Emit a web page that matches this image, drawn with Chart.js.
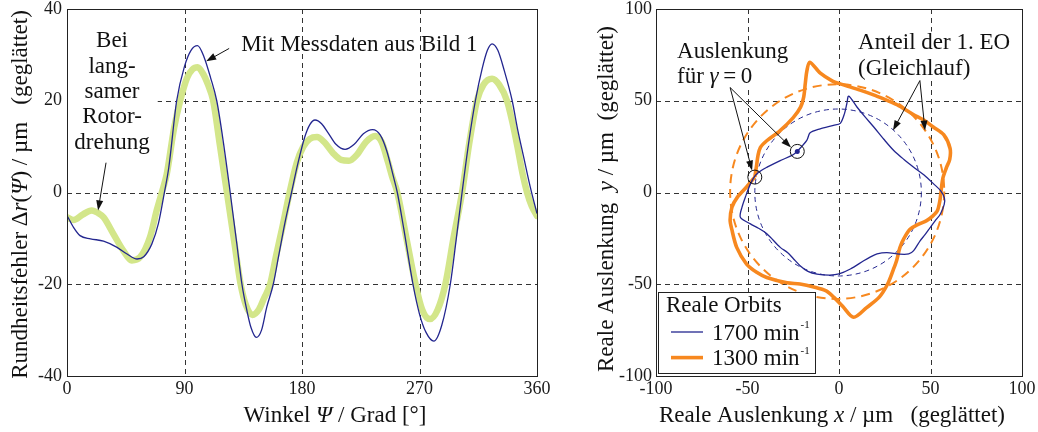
<!DOCTYPE html>
<html>
<head>
<meta charset="utf-8">
<script src="https://cdn.jsdelivr.net/npm/chart.js@4.4.0/dist/chart.umd.min.js"></script>
<style>
    body { margin: 0; background: #fff; width: 1038px; height: 432px; overflow: hidden; position: relative; }
    canvas { position: absolute; }
</style>
</head>
<body>
<canvas id="winkel_chart" width="560" height="452" style="left:0;top:-20px"></canvas>
<canvas id="orbit_chart" width="458" height="452" style="left:580px;top:-20px"></canvas>
<script>
// left panel: Rundheitsfehler over Winkel
var psiMess = [0, 5, 10, 18, 28, 38, 46, 53.7, 58.8, 65, 70, 74.6, 78, 84, 90, 95, 100, 105, 110, 114.7,
    120, 125, 130, 134, 138, 141, 145, 149, 153, 158, 162, 167, 172, 177, 182, 186, 190, 195, 200, 206,
    213, 220, 227, 234, 240, 245, 250, 253, 258, 265, 270, 275, 281, 287, 293.6, 298, 302.6, 308, 312.8, 318,
    322, 325.6, 330, 335, 341, 345, 349.8, 355, 360]
var rMess = [-5, -7.6, -9.4, -10.1, -10.6, -11.9, -13.4, -14.5, -14, -11.2, -6.8, 0, 5.5, 20, 27.5, 31, 32, 29.5, 25, 20,
    10.5, 0, -11, -20, -26, -29.5, -31.6, -30, -25, -20, -14, -6.5, 0, 6.5, 12, 14.8, 15.8, 15, 13, 10.5,
    9.4, 10.5, 12.8, 13.7, 12.5, 9, 3.5, 0, -8, -20, -26.5, -30.5, -32.4, -29, -20, -10.5, 0, 11.5, 20, 27,
    31, 32.4, 31, 26.5, 20, 14, 7.7, 1, -4.6]

var psiLangsam = [0, 5, 12, 19, 24, 28, 35.5, 43, 49.6, 56, 63.6, 68.7, 72.6, 76.4, 82, 86.7, 92, 96, 100, 104,
    108, 112, 117, 122.5, 128, 133, 137, 142, 147, 151, 155.6, 160, 165, 170.5, 176, 181, 186, 191.5, 197, 204,
    210, 216, 222, 229, 236, 241, 246, 249, 253, 260, 267, 272, 278, 284, 289.8, 296, 302.6, 308, 314, 319,
    325.6, 331, 337, 341, 345, 349, 352.4, 356, 360]
var rLangsam = [-5.4, -6, -4.8, -3.9, -4.5, -5.4, -9, -12.6, -14.8, -14.1, -9.7, -3.9, 0, 4, 14, 20, 25, 26.8, 27.3, 26,
    23.5, 20, 10.5, 0, -10.5, -20, -24.5, -26.7, -25.5, -23, -20, -14, -7.5, 0, 6.5, 10, 11.7, 12.1, 11, 8.5,
    7.1, 6.9, 8.2, 11, 12.3, 11, 6.5, 3.5, 0, -10, -20, -25.5, -27.6, -25.5, -20, -10, 0, 10.5, 20, 23.5,
    24.8, 23.5, 20, 15.5, 10, 4, 0, -3, -5.1]

// right panel: orbits, start point = Auslenkung fuer gamma = 0
var orbit1700X = [-22.8, -17.6, -15.8, -10.3, -3, 0.7, 3, 4.3, 5.3, 9.8, 14, 19, 24.5, 29.9, 35.5, 40.8, 46.5, 51.7, 55.5, 57.6,
    57.5, 55.4, 52.5, 49.9, 47, 44.4, 40.8, 38.1, 33, 26.2, 20.8, 17, 13.5, 6.2, 0, -5, -12, -17, -21.1, -24.8,
    -28, -32.1, -39.3, -44, -48.4, -53.9, -53, -51.2, -48.4, -45.7, -42.5, -39.3, -32.1, -25.7, -22.8]
var orbit1700Y = [22.4, 28.4, 32.5, 34.7, 36.6, 37.7, 43, 48.5, 52.5, 46.6, 41.5, 35.7, 29, 22.9, 18, 13.8, 9.5, 4.7, 1, -3,
    -6.5, -11.7, -15.5, -19, -23, -26.2, -31.7, -33.5, -33.6, -32.8, -33.5, -35.2, -37.2, -41.7, -44.4, -45, -44.5, -43, -40, -36.2,
    -32.8, -29.9, -22.6, -19.5, -17.1, -13.5, -8, -2.6, 4.7, 9.3, 12, 13.8, 17.4, 20.2, 22.4]

var orbit1300X = [-46, -45, -44.3, -43, -39.5, -32.3, -25, -21, -19.3, -18.4, -17.6, -16, -10.2, -4, 0.6, 11.5, 20, 26, 31.7, 40.6,
    46.3, 51.5, 57.2, 60.7, 60.5, 58.8, 56.8, 55.8, 55.2, 53.8, 51, 47.9, 43, 38.8, 35.5, 33.3, 31.5, 29.7, 26.5, 22,
    15.1, 8, 2, -2.9, -7, -13.8, -21.3, -28.4, -39.5, -45, -50.5, -55.9, -58.6, -59.5, -58.5, -55.5, -50.5, -46]
var orbit1300Y = [8.4, 15, 20, 24.5, 28.2, 33.6, 40.8, 46.5, 52, 59.6, 66, 71, 65, 61, 59.2, 55.8, 52.8, 50.3, 47.8, 42.5,
    39.5, 35.7, 31.5, 24, 18, 13.8, 8, 1, -4, -9.8, -13, -15.3, -17.5, -20, -25, -30, -37, -42, -50, -57,
    -62.7, -68, -62, -57, -53.6, -51.5, -49.9, -49.2, -46.3, -43.5, -39, -29.9, -20, -15, -8, -2.5, 3, 8.4]

// Anteil der 1. EO (circles): centre x, centre y, radius
var eoCenterX = [-0.5, -1]
var eoCenterY = [0, 0.5]
var eoRadius = [45.5, 58.5]

var drehzahlen = ['1700', '1300']
var legendTitle = 'Reale Orbits'

var BLUE = '#23268f'
var GREEN = '#d3e68a'
var ORANGE = '#f7881f'
var SERIF = '"Liberation Serif", "Times New Roman", serif'
var TXT = 23

function font(size, italic) {
    return (italic ? 'italic ' : '') + size + 'px ' + SERIF
}

function partsWidth(ctx, parts, size) {
    var w = 0
    parts.forEach(function (p) {
        ctx.font = font(size, p[1])
        w += ctx.measureText(p[0]).width
    })
    return w
}

function drawParts(ctx, parts, x, y, size, align) {
    var cx = align === 'center' ? x - partsWidth(ctx, parts, size) / 2 : x
    ctx.textAlign = 'left'
    ctx.textBaseline = 'alphabetic'
    parts.forEach(function (p) {
        ctx.font = font(size, p[1])
        ctx.fillText(p[0], cx, y)
        cx += ctx.measureText(p[0]).width
    })
}

function textBlock(ctx, lines, x, y, lh, size, align, pad) {
    var maxW = 0
    lines.forEach(function (l) { maxW = Math.max(maxW, partsWidth(ctx, l, size)) })
    if (pad) {
        var left = align === 'center' ? x - maxW / 2 : x
        ctx.fillStyle = '#fff'
        ctx.fillRect(left - pad, y - size * 0.75, maxW + 2 * pad, (lines.length - 1) * lh + size)
    }
    ctx.fillStyle = '#111'
    lines.forEach(function (l, i) { drawParts(ctx, l, x, y + i * lh, size, align) })
}

function arrow(ctx, x1, y1, x2, y2) {
    var a = Math.atan2(y2 - y1, x2 - x1), L = 10, W = 3.5
    var c = Math.cos(a), s = Math.sin(a)
    ctx.beginPath()
    ctx.moveTo(x1, y1)
    ctx.lineTo(x2 - L * 0.8 * c, y2 - L * 0.8 * s)
    ctx.stroke()
    ctx.beginPath()
    ctx.moveTo(x2, y2)
    ctx.lineTo(x2 - L * c + W * s, y2 - L * s - W * c)
    ctx.lineTo(x2 - L * c - W * s, y2 - L * s + W * c)
    ctx.closePath()
    ctx.fill()
}

function dashedGrid(chart) {
    var ctx = chart.ctx, a = chart.chartArea, sx = chart.scales.x, sy = chart.scales.y
    ctx.save()
    ctx.strokeStyle = '#333'
    ctx.lineWidth = 1
    ctx.setLineDash([5, 4])
    sx.ticks.slice(1, -1).forEach(function (t) {
        var px = Math.round(sx.getPixelForValue(t.value)) + 0.5
        ctx.beginPath(); ctx.moveTo(px, a.top); ctx.lineTo(px, a.bottom); ctx.stroke()
    })
    sy.ticks.slice(1, -1).forEach(function (t) {
        var py = Math.round(sy.getPixelForValue(t.value)) + 0.5
        ctx.beginPath(); ctx.moveTo(a.left, py); ctx.lineTo(a.right, py); ctx.stroke()
    })
    ctx.restore()
}

function frame(chart) {
    var ctx = chart.ctx, a = chart.chartArea
    ctx.save()
    ctx.strokeStyle = '#222'
    ctx.lineWidth = 1
    ctx.strokeRect(Math.round(a.left) + 0.5, Math.round(a.top) + 0.5, Math.round(a.right - a.left), Math.round(a.bottom - a.top))
    ctx.restore()
}

function rotatedTitle(ctx, parts, x, y, size) {
    ctx.save()
    ctx.translate(x, y)
    ctx.rotate(-Math.PI / 2)
    ctx.fillStyle = '#111'
    drawParts(ctx, parts, 0, 0, size, 'center')
    ctx.restore()
}

function axisSetup(min, max, step, pad, fit) {
    return {
        type: 'linear', min: min, max: max,
        ticks: { stepSize: step, padding: pad, color: '#1a1a1a', font: { family: SERIF, size: 18 }, maxRotation: 0, autoSkip: false },
        grid: { display: false, drawTicks: false },
        border: { display: false },
        afterFit: fit
    }
}

var winkelPlugin = {
    id: 'winkel_deko',
    beforeDatasetsDraw: function (chart) {
        var ctx = chart.ctx, sx = chart.scales.x, sy = chart.scales.y
        dashedGrid(chart)
        ctx.save()
        textBlock(ctx, [[['Bei', false]], [['lang-', false]], [['samer', false]], [['Rotor-', false]], [['drehung', false]]],
            sx.getPixelForValue(34.5), sy.getPixelForValue(31.67), 25.4, TXT, 'center', 8)
        ctx.restore()
    },
    afterDatasetsDraw: function (chart) {
        var ctx = chart.ctx, a = chart.chartArea, sx = chart.scales.x, sy = chart.scales.y
        frame(chart)
        ctx.save()
        ctx.fillStyle = '#111'
        drawParts(ctx, [['Mit Messdaten aus Bild 1', false]], sx.getPixelForValue(133.4), sy.getPixelForValue(30.84), TXT, 'left')
        ctx.strokeStyle = '#111'
        ctx.lineWidth = 1
        arrow(ctx, sx.getPixelForValue(29.9), sy.getPixelForValue(6.5), sx.getPixelForValue(23.8), sy.getPixelForValue(-3.9))
        arrow(ctx, sx.getPixelForValue(124.2), sy.getPixelForValue(31.4), sx.getPixelForValue(106.6), sy.getPixelForValue(28.6))
        drawParts(ctx, [['Winkel ', false], ['Ψ', true], [' / Grad [°]', false]], a.left + 268, a.bottom + 46, TXT, 'center')
        rotatedTitle(ctx, [['Rundheitsfehler Δ', false], ['r', true], ['(', false], ['Ψ', true], [') / µm   (geglättet)', false]],
            a.left - 40, (a.top + a.bottom) / 2 + 2, TXT)
        ctx.restore()
    }
}

var orbitPlugin = {
    id: 'orbit_deko',
    beforeDatasetsDraw: function (chart) {
        var ctx = chart.ctx, sx = chart.scales.x, sy = chart.scales.y
        dashedGrid(chart)
        ctx.save()
        // Anteil der 1. EO
        var eoStyle = [[BLUE, 1, [5, 4]], [ORANGE, 2, [9, 6]]]
        eoCenterX.forEach(function (cx, i) {
            var px = sx.getPixelForValue(cx), py = sy.getPixelForValue(eoCenterY[i])
            var rx = sx.getPixelForValue(cx + eoRadius[i]) - px
            var ry = py - sy.getPixelForValue(eoCenterY[i] + eoRadius[i])
            ctx.strokeStyle = eoStyle[i][0]
            ctx.lineWidth = eoStyle[i][1]
            ctx.setLineDash(eoStyle[i][2])
            ctx.beginPath()
            ctx.ellipse(px, py, rx, ry, 0, 0, Math.PI * 2)
            ctx.stroke()
        })
        ctx.setLineDash([])
        textBlock(ctx, [[['Auslenkung', false]], [['für ', false], ['γ', true], ['\u2009=\u20090', false]]],
            sx.getPixelForValue(-88.5), sy.getPixelForValue(73.4), 25.4, TXT, 'left', 3)
        textBlock(ctx, [[['Anteil der 1. EO', false]], [['(Gleichlauf)', false]]],
            sx.getPixelForValue(10.4), sy.getPixelForValue(78.3), 25.7, TXT, 'left', 3)
        ctx.restore()
    },
    afterDatasetsDraw: function (chart) {
        var ctx = chart.ctx, a = chart.chartArea, sx = chart.scales.x, sy = chart.scales.y
        ctx.save()
        ctx.strokeStyle = '#111'
        ctx.fillStyle = '#111'
        ctx.lineWidth = 1
        var arrows = [[-59.5, 57.2, -47.5, 12], [-59.5, 57.2, -26.2, 24.5], [44.2, 61, 29.5, 33.8], [44.2, 61, 47, 33.8]]
        arrows.forEach(function (r) {
            arrow(ctx, sx.getPixelForValue(r[0]), sy.getPixelForValue(r[1]), sx.getPixelForValue(r[2]), sy.getPixelForValue(r[3]))
        })
        // start markers
        var starts = [[orbit1300X[0], orbit1300Y[0]], [orbit1700X[0], orbit1700Y[0]]]
        starts.forEach(function (p, i) {
            var px = sx.getPixelForValue(p[0]), py = sy.getPixelForValue(p[1])
            ctx.beginPath()
            ctx.arc(px, py, 7, 0, Math.PI * 2)
            ctx.stroke()
            if (i === 1) {
                ctx.fillStyle = BLUE
                ctx.beginPath()
                ctx.arc(px, py, 2.5, 0, Math.PI * 2)
                ctx.fill()
            }
        })
        frame(chart)

        // legend
        var lx = a.left + 2, ly = a.bottom - 84
        ctx.fillStyle = '#fff'
        ctx.fillRect(lx, ly, 157, 81)
        ctx.strokeStyle = '#222'
        ctx.strokeRect(Math.round(lx) + 0.5, Math.round(ly) + 0.5, 157, 81)
        ctx.fillStyle = '#111'
        drawParts(ctx, [[legendTitle, false]], lx + 8, ly + 20, TXT, 'left')
        var ds = chart.data.datasets
        drehzahlen.forEach(function (n, i) {
            var d = ds[i]
            var yLine = ly + 40 + i * 25.6
            ctx.strokeStyle = d.borderColor
            ctx.lineWidth = d.borderWidth
            ctx.beginPath(); ctx.moveTo(lx + 13, yLine); ctx.lineTo(lx + 45, yLine); ctx.stroke()
            ctx.fillStyle = '#111'
            drawParts(ctx, [[n + ' min', false]], lx + 54, yLine + 7.5, TXT, 'left')
            var w = partsWidth(ctx, [[n + ' min', false]], TXT)
            ctx.font = font(11, false)
            ctx.fillText('-1', lx + 54 + w + 1, yLine - 4)
        })

        ctx.fillStyle = '#111'
        drawParts(ctx, [['Reale Auslenkung ', false], ['x', true], [' / µm   (geglättet)', false]], a.left + 176, a.bottom + 46, TXT, 'center')
        rotatedTitle(ctx, [['Reale Auslenkung  ', false], ['y', true], [' / µm  (geglättet)', false]],
            a.left - 43, (a.top + a.bottom) / 2 + 6.5, TXT)
        ctx.restore()
    }
}

var winkel_chart = new Chart(document.getElementById('winkel_chart').getContext('2d'), {
    type: 'line',
    data: {
        datasets: [{
            label: 'Mit Messdaten aus Bild 1',
            data: psiMess.map(function (p, i) { return { x: p, y: rMess[i] } }),
            borderColor: BLUE,
            borderWidth: 1.3,
            pointRadius: 0,
            cubicInterpolationMode: 'monotone',
            fill: false
        }, {
            label: 'Bei langsamer Rotordrehung',
            data: psiLangsam.map(function (p, i) { return { x: p, y: rLangsam[i] } }),
            borderColor: GREEN,
            borderWidth: 6.5,
            borderCapStyle: 'round',
            borderJoinStyle: 'round',
            pointRadius: 0,
            cubicInterpolationMode: 'monotone',
            fill: false
        }]
    },
    options: {
        responsive: false,
        animation: false,
        devicePixelRatio: 1,
        layout: { padding: { top: 29, right: 23, left: 0, bottom: 0 } },
        plugins: { legend: { display: false }, tooltip: { enabled: false } },
        scales: {
            x: axisSetup(0, 360, 90, 2, function (s) { s.height = 56 }),
            y: axisSetup(-40, 40, 20, 5, function (s) { s.width = 67 })
        }
    },
    plugins: [winkelPlugin]
})

var orbit_chart = new Chart(document.getElementById('orbit_chart').getContext('2d'), {
    type: 'scatter',
    data: {
        datasets: [{
            label: drehzahlen[0] + ' min-1',
            data: orbit1700X.map(function (x, i) { return { x: x, y: orbit1700Y[i] } }),
            borderColor: BLUE,
            borderWidth: 1.3,
            showLine: true,
            tension: 0.3,
            pointRadius: 0
        }, {
            label: drehzahlen[1] + ' min-1',
            data: orbit1300X.map(function (x, i) { return { x: x, y: orbit1300Y[i] } }),
            borderColor: ORANGE,
            borderWidth: 3.6,
            borderJoinStyle: 'round',
            showLine: true,
            tension: 0.3,
            pointRadius: 0
        }]
    },
    options: {
        responsive: false,
        animation: false,
        devicePixelRatio: 1,
        layout: { padding: { top: 29, right: 16, left: 0, bottom: 0 } },
        plugins: { legend: { display: false }, tooltip: { enabled: false } },
        scales: {
            x: axisSetup(-100, 100, 50, 2, function (s) { s.height = 56 }),
            y: axisSetup(-100, 100, 50, 4, function (s) { s.width = 76 })
        }
    },
    plugins: [orbitPlugin]
})
</script>
</body>
</html>
